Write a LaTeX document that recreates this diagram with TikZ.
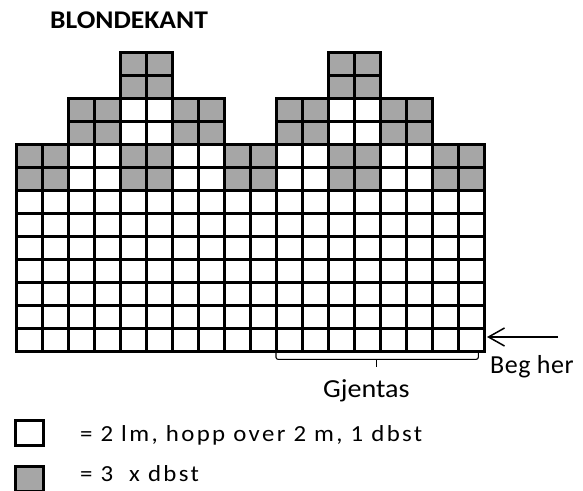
\documentclass[tikz,border=0pt]{standalone}
\usepackage{fontspec}
\setmainfont{Carlito}
\newfontfamily\bred[FakeStretch=1.08]{Carlito}
\usetikzlibrary{arrows.meta}
\definecolor{maske}{HTML}{A6A6A6}
\tikzset{
  rute/.style={draw=black, line width=3, fill=white},
  fylt/.style={rute, fill=maske},
  tekst/.style={anchor=base west, inner sep=0pt},
}
\begin{document}
\begin{tikzpicture}[x=1pt,y=-1pt]
      \useasboundingbox (0,0) rectangle (583,490);

      \node[tekst,font=\bred\bfseries\fontsize{25.5}{30}\selectfont] (tittel) at (50,28.3) {BLONDEKANT};

      % bunn: sju hvite rader
      \foreach \r in {7,...,13}
        \foreach \c in {1,...,18}
          \draw[rute] ({16+26*(\c-1)},{52.7+23*(\r-1)}) rectangle ++(26,23);

      % rad 5-6
      \foreach \r in {5,6} {
        \foreach \c in {1,2,5,6,9,10,13,14,17,18}
          \draw[fylt] ({16+26*(\c-1)},{52.7+23*(\r-1)}) rectangle ++(26,23);
        \foreach \c in {3,4,7,8,11,12,15,16}
          \draw[rute] ({16+26*(\c-1)},{52.7+23*(\r-1)}) rectangle ++(26,23);
      }

      % rad 3-4
      \foreach \r in {3,4} {
        \foreach \c in {3,4,7,8,11,12,15,16}
          \draw[fylt] ({16+26*(\c-1)},{52.7+23*(\r-1)}) rectangle ++(26,23);
        \foreach \c in {5,6,13,14}
          \draw[rute] ({16+26*(\c-1)},{52.7+23*(\r-1)}) rectangle ++(26,23);
      }

      % rad 1-2
      \foreach \r in {1,2}
        \foreach \c in {5,6,13,14}
          \draw[fylt] ({16+26*(\c-1)},{52.7+23*(\r-1)}) rectangle ++(26,23);

      % gjentas
      \coordinate (gv) at (276,350);
      \coordinate (gh) at (478.3,350);
      \coordinate (gm) at (376.7,359.3);
      \draw[line width=1.1, rounded corners=2] (gv) |- (gm) -| (gh);
      \draw[line width=1.1] (gm) -- ++(0,7.4);
      \node[tekst,font=\bred\fontsize{26}{30}\selectfont] (gjentas) at (323,397.3) {Gjentas};

      % beg her
      \coordinate (start) at (558,337);
      \coordinate (spiss) at (487,337);
      \draw[line width=1.5,-{Straight Barb[length=16,width=18,line width=1.5]}] (start) -- (spiss);
      \node[tekst,font=\fontsize{26}{30}\selectfont] (beg) at (490,373.3) {\addfontfeature{LetterSpace=2}Beg her};

      % forklaring
      \draw[rute] (15,420) rectangle (43,445);
      \draw[fylt] (15,466) rectangle (43,491);
      \node[tekst,font=\bred\fontsize{23}{27}\selectfont] (hvit) at (80,441.7) {\addfontfeature{LetterSpace=10.5}= 2 lm, hopp over 2 m, 1 dbst};
      \node[tekst,font=\bred\fontsize{23}{27}\selectfont] (graa) at (80,481.7) {\addfontfeature{LetterSpace=10.5}= 3 \ x dbst};
    \end{tikzpicture}
\end{document}
